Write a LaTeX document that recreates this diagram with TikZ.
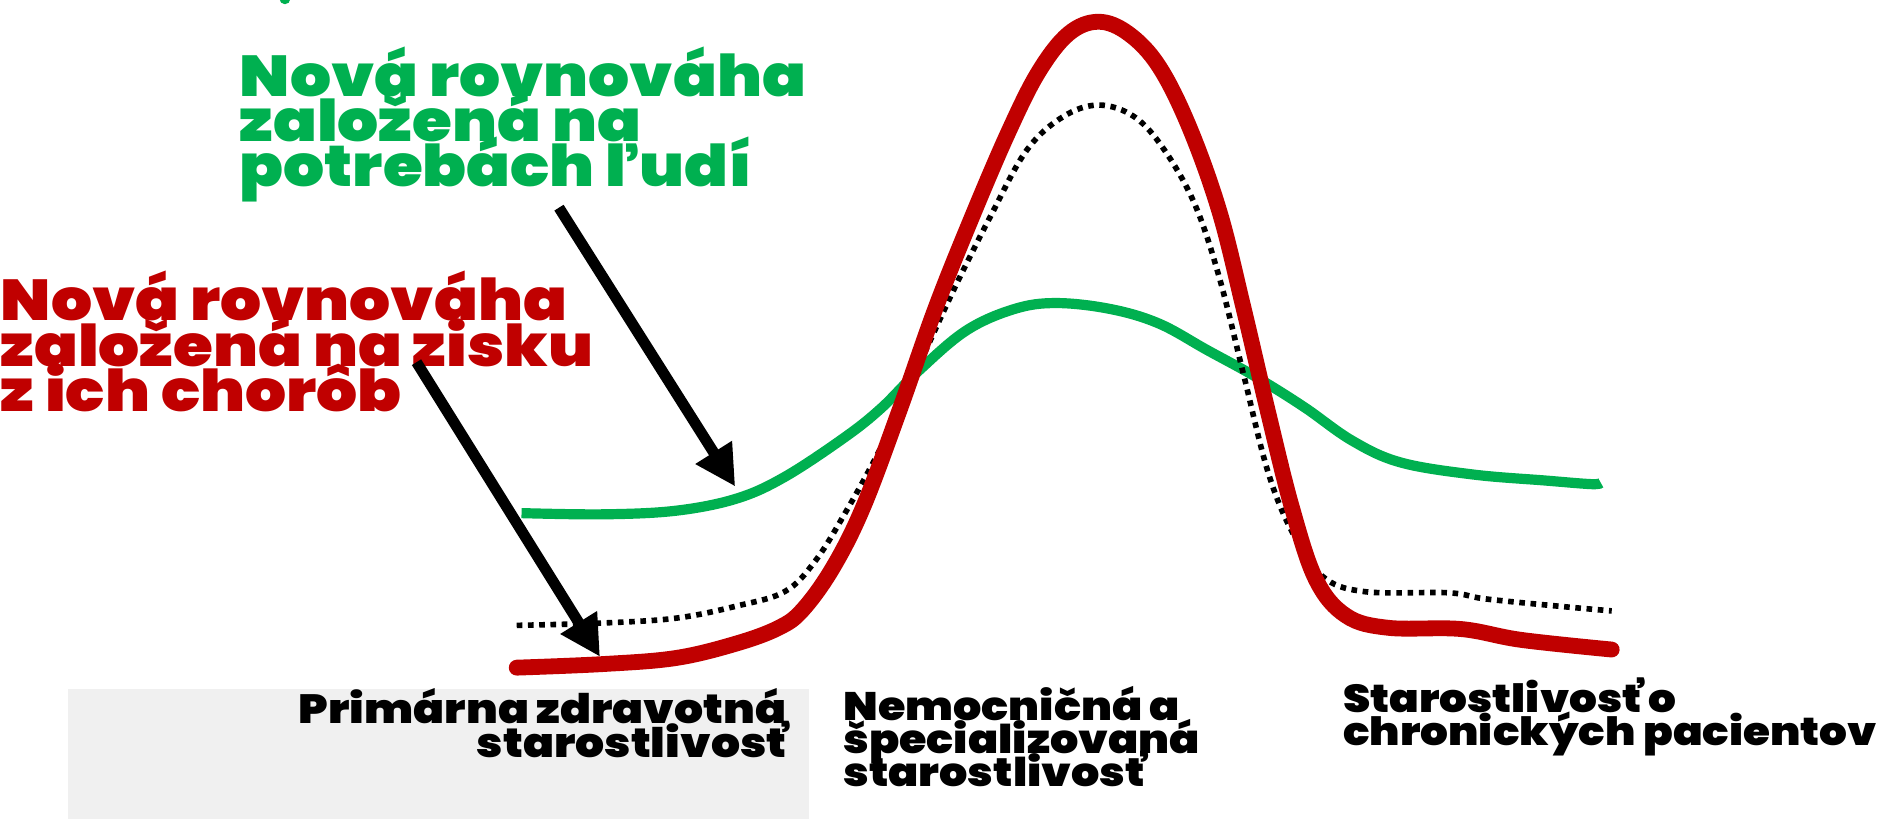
\documentclass[tikz,border=0pt]{standalone}
\usepackage{fontspec}
\newfontfamily\heavy{Poppins Black}[FakeStretch=1.12]
\usetikzlibrary{arrows.meta}
\definecolor{cgreen}{HTML}{00B050}
\definecolor{cred}{HTML}{C00000}
\definecolor{cgray}{HTML}{F0F0F0}
\newcommand\tightlines{\lineskiplimit=-50pt\relax}
\tikzset{
  bigtitle/.style={inner sep=0pt, align=left, font=\heavy\fontsize{16.4}{12.9}\selectfont\tightlines},
  smalllabel/.style={inner sep=0pt, font=\heavy\fontsize{11.6}{9.5}\selectfont\tightlines},
  pointer/.style={line width=3.1pt, -{Triangle[length=11.5pt,width=11.5pt]}},
  greencurve/.style={cgreen, line width=2.9pt},
  redcurve/.style={cred, line width=4.5pt, line cap=round},
  dotcurve/.style={black, line width=1.6pt, dash pattern=on 1.6pt off 1.6pt}
}
\begin{document}
\begin{tikzpicture}[x=0.012073cm, y=-0.012073cm]
\useasboundingbox (0,0) rectangle (1568,678);
\fill[cgray] (56,571) rectangle (670,678);
\fill[cgreen] (236,-1) circle (4.5);
% curves
\draw[greencurve] plot[smooth, tension=0.6] coordinates {(432,425) (500,426) (560,423) (610,413) (650,395) (700,362) (730,338) (760,308) (800,274) (840,256) (875,251) (920,256) (960,268) (1000,290) (1040,312) (1080,337) (1120,365) (1160,383) (1220,393) (1280,398) (1318,401) (1326,400)};
\draw[dotcurve] plot[smooth, tension=0.6] coordinates {(428,518) (500,516) (560,512) (610,502) (650,490) (675,465) (700,425) (730,370) (760,305) (790,240) (820,180) (850,125) (880,97) (910,87) (940,97) (965,125) (990,170) (1010,230) (1030,310) (1050,390) (1070,440) (1095,477) (1130,490) (1200,491) (1230,496) (1290,502) (1335,506)};
\draw[redcurve] plot[smooth, tension=0.6] coordinates {(428,553) (500,550) (560,545) (610,533) (645,520) (665,505) (690,470) (715,420) (745,340) (775,255) (805,180) (835,110) (860,60) (885,28) (910,18) (935,28) (960,55) (985,105) (1010,175) (1030,255) (1050,340) (1070,420) (1090,480) (1115,510) (1150,520) (1210,521) (1260,530) (1335,538)};
% titles
\node[bigtitle, cgreen, anchor=north west] (gt) at (198,38) {Nová rovnováha\\založená na\\potrebách ľudí};
\node[bigtitle, cred, anchor=north west] (rt) at (0,224) {Nová rovnováha\\založená na zisku\\z ich chorôb};
% arrows
\coordinate (g1) at (463,172);
\coordinate (g2) at (609,403);
\coordinate (r1) at (345,300);
\coordinate (r2) at (497,544);
\draw[pointer] (g1) -- (g2);
\draw[pointer] (r1) -- (r2);
% labels
\node[smalllabel, align=right, anchor=north east] (l1) at (652,570) {Primárna zdravotná\\starostlivosť};
\node[smalllabel, align=left, anchor=north west, font=\heavy\fontsize{11.3}{9.4}\selectfont\tightlines] (l2) at (698,568) {Nemocničná a\\špecializovaná\\starostlivosť};
\node[smalllabel, align=left, anchor=north west, font=\heavy\fontsize{11.1}{9.2}\selectfont\tightlines] (l3) at (1112,561) {Starostlivosť o\\chronických pacientov};
\end{tikzpicture}
\end{document}
